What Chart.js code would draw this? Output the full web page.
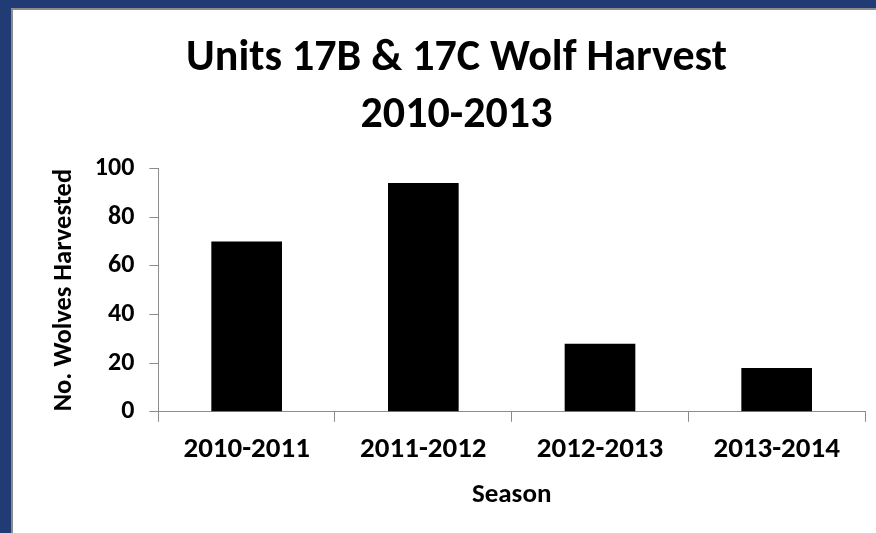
<!DOCTYPE html>
<html>
<head>
<meta charset="utf-8">
<title>Units 17B & 17C Wolf Harvest</title>
<script src="https://cdn.jsdelivr.net/npm/chart.js@4.4.1/dist/chart.umd.min.js"></script>
<style>
  html, body { margin: 0; padding: 0; }
  body { width: 876px; height: 533px; background: #213c74; position: relative; overflow: hidden; }
  #frame { position: absolute; left: 11px; top: 8px; right: 0; bottom: 0; background: #fff;
           border-left: 2px solid #8c8c8c; border-top: 2px solid #8c8c8c; }
  #wrap { position: absolute; left: 0; top: 0; width: 876px; height: 533px; }
</style>
</head>
<body>
<div id="frame"></div>
<div id="wrap"><canvas id="harvestChart"></canvas></div>
<script>
const titleLines = ["Units 17B & 17C Wolf Harvest", "2010-2013"];
const seasons = ["2010-2011", "2011-2012", "2012-2013", "2013-2014"];
const wolvesHarvested = [70, 94, 28, 18];
const yMin = 0, yMax = 100, yStep = 20;

const fontFamily = "Calibri, Carlito, 'Liberation Sans', Arial, sans-serif";
const axisGray = "#8c8c8c";

Chart.defaults.color = "#000";
Chart.defaults.font.family = fontFamily;

new Chart(document.getElementById("harvestChart"), {
  type: 'bar',
  data: {
    labels: seasons,
    datasets: [{
      label: "No. Wolves Harvested",
      data: wolvesHarvested,
      backgroundColor: "#000",
      borderColor: "#000",
      borderWidth: 0,
      categoryPercentage: 1,
      barPercentage: 0.4
    }]
  },
  options: {
    responsive: true,
    maintainAspectRatio: false,
    animation: false,
    layout: { padding: { left: 48, right: 11, top: 0, bottom: 22 } },
    plugins: {
      legend: { display: false },
      tooltip: { enabled: false },
      title: {
        display: true,
        text: titleLines,
        color: "#000",
        font: { size: 44, weight: 'bold', lineHeight: 1.3 },
        padding: { top: 30, bottom: 24 }
      }
    },
    scales: {
      x: {
        grid: { display: true, drawOnChartArea: false, drawTicks: true, tickLength: 10, color: axisGray },
        border: { display: true, color: axisGray, width: 1 },
        ticks: { color: "#000", font: { size: 29, weight: 'bold' }, padding: 11 },
        title: { display: true, text: "Season", color: "#000", font: { size: 27, weight: 'bold' }, padding: { top: 0, bottom: 0 } }
      },
      y: {
        min: yMin,
        max: yMax,
        grid: { display: true, drawOnChartArea: false, drawTicks: true, tickLength: 9, color: axisGray },
        border: { display: true, color: axisGray, width: 1 },
        ticks: { stepSize: yStep, color: "#000", font: { size: 26, weight: 'bold' }, padding: 15 },
        title: { display: true, text: "No. Wolves Harvested", color: "#000", font: { size: 26.5, weight: 'bold' }, padding: { top: 0, bottom: 0 } }
      }
    }
  }
});
</script>
</body>
</html>
